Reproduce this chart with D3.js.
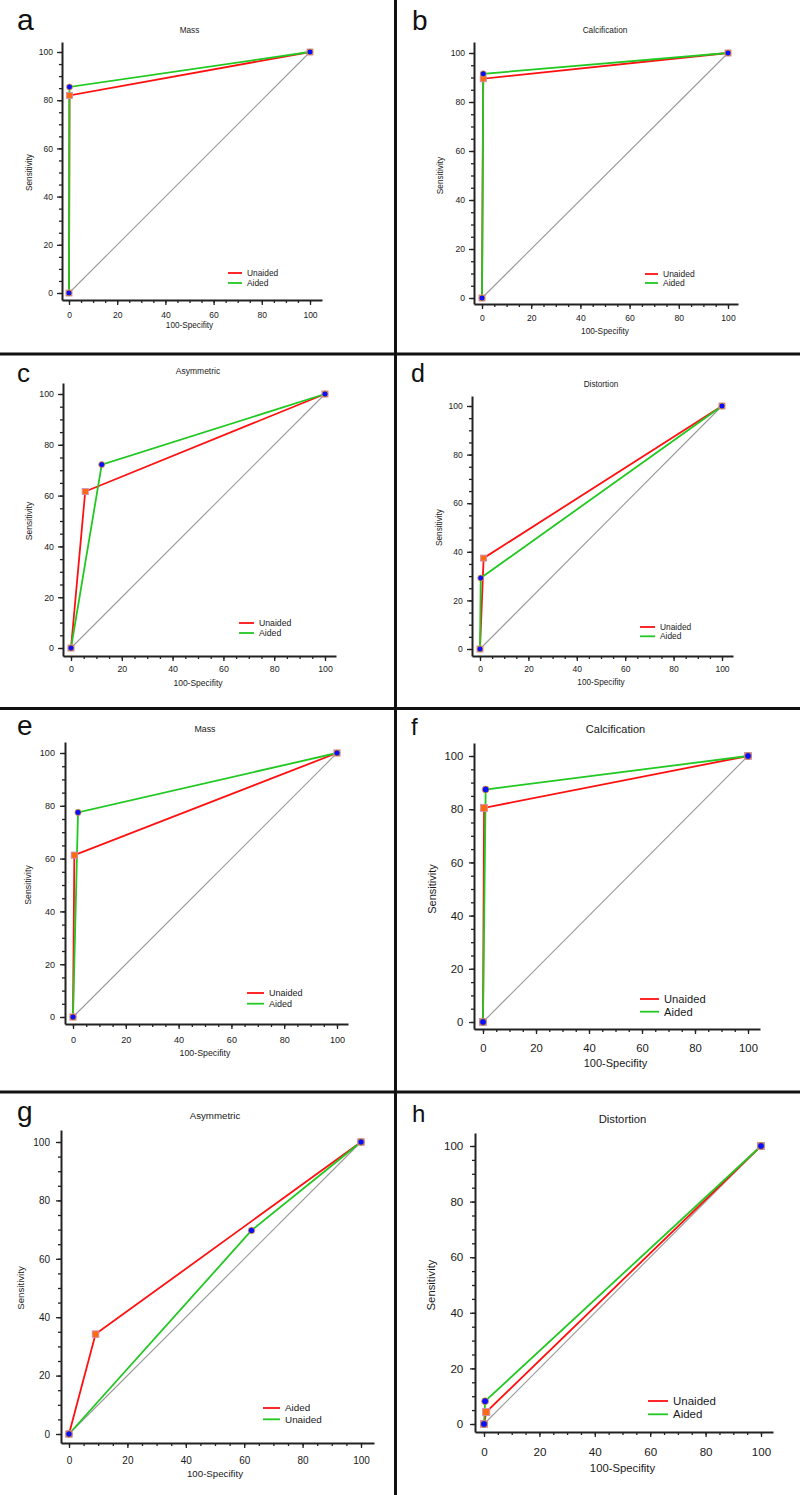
<!DOCTYPE html>
<html>
<head>
  <meta charset="utf-8">
  <script src="https://d3js.org/d3.v7.min.js"></script>
  <style>
    body { margin: 0; background: #fff; font-family: 'Liberation Sans', Arial, sans-serif; }
  </style>
</head>
<body>
  <div id="my_dataviz"></div>
  <script>
    // ---- data ----
    var panelIds = ["a", "b", "c", "d", "e", "f", "g", "h"];
    var titles = ["Mass", "Calcification", "Asymmetric", "Distortion", "Mass", "Calcification", "Asymmetric", "Distortion"];
    var redNames = ["Unaided", "Unaided", "Unaided", "Unaided", "Unaided", "Unaided", "Aided", "Unaided"];
    var greenNames = ["Aided", "Aided", "Aided", "Aided", "Aided", "Aided", "Unaided", "Aided"];
    // 100-specificity / sensitivity for each panel
    var redFpr = [[0, 0.2, 100], [0, 0.5, 100], [0, 5.6, 100], [0, 1.5, 100], [0, 0.5, 100], [0, 0.4, 100], [0, 9.1, 100], [0, 0.8, 100]];
    var redSens = [[0, 82, 100], [0, 89.5, 100], [0, 61.6, 100], [0, 37.4, 100], [0, 61.3, 100], [0, 80.5, 100], [0, 34.2, 100], [0, 4.3, 100]];
    var greenFpr = [[0, 0.2, 100], [0, 0.5, 100], [0, 12.1, 100], [0, 0.3, 100], [0, 1.9, 100], [0, 1.0, 100], [0, 62.5, 100], [0, 0.4, 100]];
    var greenSens = [[0, 85.5, 100], [0, 91.5, 100], [0, 72.2, 100], [0, 29.2, 100], [0, 77.5, 100], [0, 87.4, 100], [0, 69.7, 100], [0, 8.2, 100]];
    var xTicks = [0, 20, 40, 60, 80, 100];
    var yTicks = [0, 20, 40, 60, 80, 100];
    var minorTicks = d3.range(0, 101, 5);

    // ---- layout of each panel (pixels) ----
    var layout = [
      {x0: 69, x1: 310, yT: 52, yB: 293, ax: 62, ay: 300, aTop: 42, aRight: 322, fs: 8.2, titleY: 30, tickDy: 15, labDy: 25, ylabDx: 33, yPad: 9, legX: 228, legY: 273, legLen: 14, legGap: 10, letterX: 17, letterY: 30, letterFs: 30},
      {x0: 482, x1: 728, yT: 53, yB: 298, ax: 474, ay: 304, aTop: 42, aRight: 738, fs: 8.3, titleY: 30, tickDy: 14, labDy: 27, ylabDx: 34, yPad: 9, legX: 645, legY: 274, legLen: 13, legGap: 9, letterX: 412, letterY: 30, letterFs: 28},
      {x0: 71, x1: 325, yT: 394, yB: 648, ax: 63, ay: 656, aTop: 383, aRight: 336, fs: 8.5, titleY: 371, tickDy: 13, labDy: 27, ylabDx: 34, yPad: 9, legX: 239, legY: 623, legLen: 15, legGap: 10, letterX: 17, letterY: 382, letterFs: 26},
      {x0: 480, x1: 722, yT: 406, yB: 649, ax: 472, ay: 656, aTop: 396, aRight: 733, fs: 8.2, titleY: 384, tickDy: 13, labDy: 26, ylabDx: 33, yPad: 9.3, legX: 640, legY: 627, legLen: 15, legGap: 9.3, letterX: 411, letterY: 382, letterFs: 25},
      {x0: 73, x1: 337, yT: 753, yB: 1017, ax: 65, ay: 1024, aTop: 742, aRight: 348, fs: 8.8, titleY: 729, tickDy: 16, labDy: 29, ylabDx: 37, yPad: 10, legX: 247, legY: 993, legLen: 17, legGap: 10.7, letterX: 17, letterY: 735, letterFs: 28},
      {x0: 483, x1: 748, yT: 756, yB: 1022, ax: 474, ay: 1029, aTop: 743, aRight: 760, fs: 11, titleY: 729, tickDy: 19, labDy: 34, ylabDx: 42, yPad: 10.7, legX: 640, legY: 999, legLen: 19, legGap: 12.7, letterX: 411, letterY: 735, letterFs: 24},
      {x0: 69, x1: 361, yT: 1142, yB: 1434, ax: 61, ay: 1443, aTop: 1130, aRight: 374, fs: 9.7, titleY: 1116, tickDy: 17, labDy: 31, ylabDx: 40, yPad: 11, legX: 263, legY: 1408, legLen: 17, legGap: 11.3, letterX: 17, letterY: 1121, letterFs: 28},
      {x0: 484, x1: 761, yT: 1146, yB: 1424, ax: 475, ay: 1432, aTop: 1133, aRight: 773, fs: 11.3, titleY: 1119, tickDy: 20, labDy: 36, ylabDx: 44, yPad: 11.7, legX: 648, legY: 1401, legLen: 20, legGap: 13.3, letterX: 412, letterY: 1122, letterFs: 24}
    ];

    var RED = "#ff1010", GREEN = "#22c822";

    var svg = d3.select("#my_dataviz")
      .append("svg")
      .attr("width", 800)
      .attr("height", 1495)
      .style("display", "block");

    svg.append("rect").attr("width", 800).attr("height", 1495).attr("fill", "#fff");

    panelIds.forEach(function (id, i) {
      var L = layout[i];
      var g = svg.append("g").style("font-family", "'Liberation Sans', Arial, sans-serif");

      var x = d3.scaleLinear().domain([0, 100]).range([L.x0, L.x1]);
      var y = d3.scaleLinear().domain([0, 100]).range([L.yB, L.yT]);
      // axis scales run a bit past the data range, like the original plots
      var xa = d3.scaleLinear().domain([x.invert(L.ax), x.invert(L.aRight)]).range([L.ax, L.aRight]);
      var ya = d3.scaleLinear().domain([y.invert(L.ay), y.invert(L.aTop)]).range([L.ay, L.aTop]);

      // minor ticks
      g.append("g").attr("transform", "translate(0," + L.ay + ")")
        .call(d3.axisBottom(xa).tickValues(minorTicks).tickSize(3).tickFormat(""))
        .call(function (s) { s.select(".domain").remove(); });
      g.append("g").attr("transform", "translate(" + L.ax + ",0)")
        .call(d3.axisLeft(ya).tickValues(minorTicks).tickSize(3).tickFormat(""))
        .call(function (s) { s.select(".domain").remove(); });

      // major ticks + axis lines
      var xAxis = g.append("g").attr("transform", "translate(0," + L.ay + ")")
        .call(d3.axisBottom(xa).tickValues(xTicks).tickSize(5).tickSizeOuter(0)
          .tickPadding(L.tickDy - 0.36 * L.fs - 5));
      var yAxis = g.append("g").attr("transform", "translate(" + L.ax + ",0)")
        .call(d3.axisLeft(ya).tickValues(yTicks).tickSize(5).tickSizeOuter(0)
          .tickPadding(L.yPad - 5));
      [xAxis, yAxis].forEach(function (a) {
        a.select(".domain").attr("stroke", "#222").attr("stroke-width", 2);
        a.selectAll("text").attr("font-size", L.fs + 0.3).attr("fill", "#1a1a1a")
          .style("font-family", "'Liberation Sans', Arial, sans-serif");
      });
      g.selectAll(".tick line").attr("stroke", "#222").attr("stroke-width", 1.3);

      // chance diagonal
      g.append("line")
        .attr("x1", x(0)).attr("y1", y(0))
        .attr("x2", x(100)).attr("y2", y(100))
        .attr("stroke", "#999").attr("stroke-width", 1.1);

      var line = d3.line().x(function (d) { return x(d[0]); }).y(function (d) { return y(d[1]); });
      var redPts = d3.zip(redFpr[i], redSens[i]);
      var greenPts = d3.zip(greenFpr[i], greenSens[i]);

      g.append("path").datum(redPts).attr("d", line)
        .attr("fill", "none").attr("stroke", RED).attr("stroke-width", 1.8);
      g.append("path").datum(greenPts).attr("d", line)
        .attr("fill", "none").attr("stroke", GREEN).attr("stroke-width", 1.8);

      var sq = 6 + (L.fs - 8) * 0.35;
      var r = 3 + (L.fs - 8) * 0.15;
      g.selectAll(".sq").data(redPts).enter().append("rect")
        .attr("x", function (d) { return x(d[0]) - sq / 2; })
        .attr("y", function (d) { return y(d[1]) - sq / 2; })
        .attr("width", sq).attr("height", sq)
        .attr("fill", "#ff6a10").attr("stroke", "#c890c0").attr("stroke-width", 0.8);
      g.selectAll(".dot").data(greenPts).enter().append("circle")
        .attr("cx", function (d) { return x(d[0]); })
        .attr("cy", function (d) { return y(d[1]); })
        .attr("r", r)
        .attr("fill", "#0a10ff").attr("stroke", "#ffb000").attr("stroke-width", 0.7);

      // title, axis labels
      var midX = (L.x0 + L.x1) / 2, midY = (L.yT + L.yB) / 2;
      g.append("text").attr("x", midX).attr("y", L.titleY).attr("dy", "0.35em")
        .attr("text-anchor", "middle").attr("font-size", L.fs).attr("fill", "#1a1a1a").text(titles[i]);
      g.append("text").attr("x", midX).attr("y", L.ay + L.labDy).attr("dy", "0.35em")
        .attr("text-anchor", "middle").attr("font-size", L.fs).attr("fill", "#1a1a1a").text("100-Specifity");
      g.append("text")
        .attr("transform", "translate(" + (L.ax - L.ylabDx) + "," + midY + ") rotate(-90)")
        .attr("dy", "0.35em")
        .attr("text-anchor", "middle").attr("font-size", L.fs).attr("fill", "#1a1a1a").text("Sensitivity");

      // legend
      [[RED, redNames[i]], [GREEN, greenNames[i]]].forEach(function (it, k) {
        var ly = L.legY + k * L.legGap;
        g.append("line").attr("x1", L.legX).attr("x2", L.legX + L.legLen)
          .attr("y1", ly).attr("y2", ly).attr("stroke", it[0]).attr("stroke-width", 1.8);
        g.append("text").attr("x", L.legX + L.legLen + 5).attr("y", ly).attr("dy", "0.35em")
          .attr("font-size", L.fs + 0.2).attr("fill", "#1a1a1a").text(it[1]);
      });

      // panel letter
      g.append("text").attr("x", L.letterX).attr("y", L.letterY)
        .attr("font-size", L.letterFs).attr("fill", "#111").text(id);
    });

    // panel dividers
    svg.append("line").attr("x1", 395.5).attr("x2", 395.5).attr("y1", 0).attr("y2", 1495)
      .attr("stroke", "#111").attr("stroke-width", 3);
    [354, 708.5, 1092].forEach(function (yy) {
      svg.append("line").attr("x1", 0).attr("x2", 800).attr("y1", yy).attr("y2", yy)
        .attr("stroke", "#111").attr("stroke-width", 3);
    });
  </script>
</body>
</html>
